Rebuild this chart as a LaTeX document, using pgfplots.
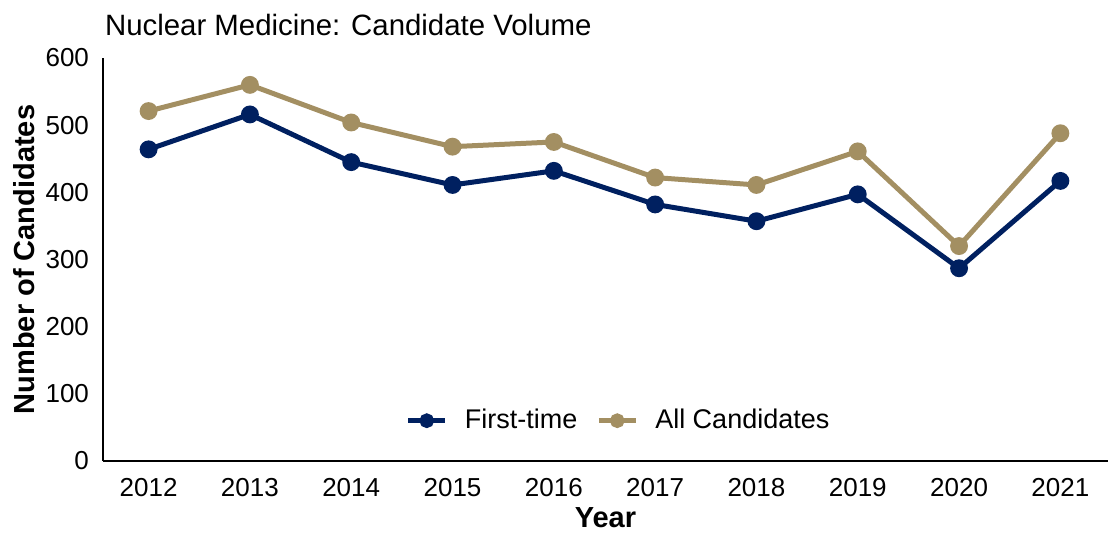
\documentclass[border=0pt]{standalone}
\usepackage{pgfplots}
\pgfplotsset{compat=1.18}
\usepackage{fontspec}
\setmainfont{Liberation Sans}
\definecolor{navy}{RGB}{0,32,96}
\definecolor{gold}{RGB}{163,143,98}
\begin{document}
\begin{tikzpicture}
\begin{axis}[
  at={(0,0)}, anchor=south west,
  scale only axis,
  width=502.5pt, height=201.5pt,
  xmin=-0.45, xmax=9.47,
  ymin=0, ymax=600,
  ytick={0,100,...,600},
  xtick={0,...,9},
  xticklabels={2012,2013,2014,2015,2016,2017,2018,2019,2020,2021},
  axis x line*=bottom, axis y line*=left,
  axis line style={black, line width=0.8pt, -},
  tick style={draw=none},
  major tick length=0pt,
  /pgf/number format/assume math mode=true,
  ticklabel style={font=\fontsize{13pt}{15pt}\selectfont},
  xticklabel style={yshift=-5pt},
  yticklabel style={xshift=-3.5pt},
  xlabel={\textbf{Year}},
  ylabel={\textbf{Number of Candidates}},
  label style={font=\fontsize{14.5pt}{16pt}\selectfont},
  xlabel style={at={(axis description cs:0.5,0)}, anchor=center, yshift=-28.5pt},
  ylabel style={at={(axis description cs:0,0.5)}, anchor=center, rotate=0, yshift=39.5pt},
  legend style={at={(0.514,0.10)}, anchor=center, draw=none, fill=none,
    legend columns=-1, font=\fontsize{13.5pt}{15pt}\selectfont,
    /tikz/every odd column/.append style={column sep=6.5pt},
    /tikz/every even column/.append style={column sep=7.5pt}},
  legend image code/.code={
    \draw[#1, mark=none] (0pt,0pt) -- (18.5pt,0pt);
    \fill[#1] (9.25pt,0pt) circle (2.4pt);},
  clip=false,
]
\addplot[navy, line width=2.5pt, mark=*, mark size=3.2pt] coordinates {
(0,464) (1,516) (2,445) (3,411) (4,432) (5,382) (6,357) (7,397) (8,287) (9,417)};
\addlegendentry{First-time}
\addplot[gold, line width=2.5pt, mark=*, mark size=3.2pt] coordinates {
(0,521) (1,560) (2,504) (3,468) (4,475) (5,422) (6,411) (7,461) (8,320) (9,488)};
\addlegendentry{All Candidates}
\node[anchor=west, font=\fontsize{14.7pt}{16pt}\selectfont] at (axis description cs:0,1) [yshift=16.5pt, xshift=-2.5pt] {Nuclear Medicine: Candidate Volume};
\end{axis}
\pgfresetboundingbox
\path[use as bounding box] (-51.5pt,-35.5pt) rectangle (504pt,230.5pt);
\end{tikzpicture}
\end{document}
